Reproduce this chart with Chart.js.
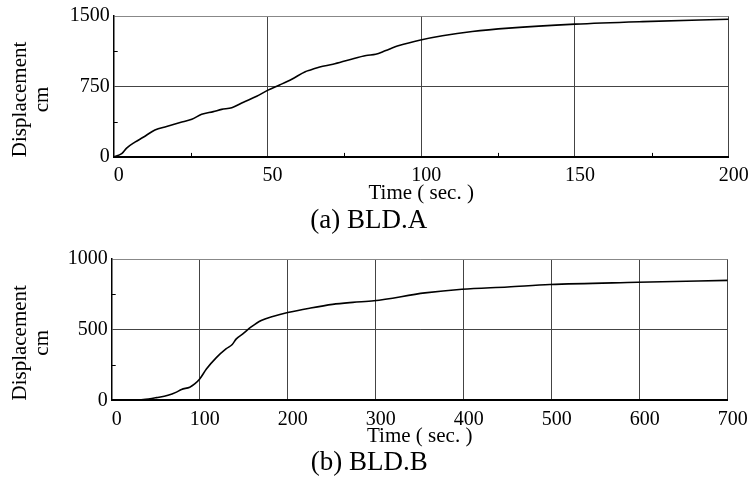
<!DOCTYPE html>
<html>
<head>
<meta charset="utf-8">
<script src="https://cdn.jsdelivr.net/npm/chart.js@4.4.0/dist/chart.umd.min.js"></script>
<style>
  body { margin: 0; background: #fff; }
  .box { position: absolute; left: 0; width: 752px; }
</style>
</head>
<body>
<div class="box" style="top:0;height:240px"><canvas id="chartA" width="752" height="240"></canvas></div>
<div class="box" style="top:243px;height:238px"><canvas id="chartB" width="752" height="238"></canvas></div>
<script>
// (a) BLD.A
const timeA = [0, 2.6, 4.2, 6.9, 9.6, 13.4, 17.2, 21.6, 25.4, 28.6, 32.4, 35.1, 38.4, 42.2, 46.5, 50, 54.1, 57.9, 62.3, 64, 67, 71.3, 76.7, 82.1, 85.2, 88.5, 92.8, 99.8, 106.9, 116.6, 128.5, 150, 172, 200];
const dispA = [0, 35, 94, 157, 209, 286, 324, 366, 401, 453, 482, 506, 524, 582, 645, 708, 768, 827, 907, 925, 958, 986, 1035, 1080, 1092, 1133, 1185, 1245, 1290, 1335, 1371, 1413, 1440, 1465];
const xLabelsA = [0, 50, 100, 150, 200];
const yLabelsA = [0, 750, 1500];

// (b) BLD.B
const timeB = [0, 20, 36, 51, 64, 73.6, 79.3, 88.7, 94.3, 100, 107.6, 118.9, 130.2, 137, 141.6, 149, 158.5, 169.9, 183, 200, 225, 251, 274, 298, 356, 398, 450, 498, 598, 700];
const dispB = [0, 1, 5, 19, 35, 58, 77, 93, 116, 151, 221, 302, 365, 395, 435, 470, 519, 565, 593, 621, 652, 679, 693, 704, 760, 786, 802, 819, 835, 849];
const xLabelsB = [0, 100, 200, 300, 400, 500, 600, 700];
const yLabelsB = [0, 500, 1000];

const yTitle = ["Displacement", "cm"];
const xTitle = "Time ( sec. )";
const captions = ["(a) BLD.A", "(b) BLD.B"];

Chart.defaults.font.family = "'Liberation Serif', 'Times New Roman', serif";
Chart.defaults.color = "#000";

// minor ticks pointing into the plot + two-line y title
const decor = {
  id: "decor",
  beforeDatasetsDraw(chart, args, o) {
    const ctx = chart.ctx;
    const { left, bottom } = chart.chartArea;
    const xs = chart.scales.x;
    const ys = chart.scales.y;
    ctx.save();
    ctx.strokeStyle = "#000";
    ctx.lineWidth = 1;
    ctx.beginPath();
    xs.ticks.forEach((t) => {
      if (o.xLabels.includes(t.value)) return;
      const px = Math.round(xs.getPixelForValue(t.value)) + 0.5;
      ctx.moveTo(px, bottom);
      ctx.lineTo(px, bottom - 4);
    });
    ys.ticks.forEach((t) => {
      if (o.yLabels.includes(t.value)) return;
      const py = Math.round(ys.getPixelForValue(t.value)) + 0.5;
      ctx.moveTo(left, py);
      ctx.lineTo(left + 4, py);
    });
    ctx.stroke();

    ctx.fillStyle = "#000";
    ctx.font = "21px 'Liberation Serif', serif";
    ctx.textAlign = "center";
    ctx.textBaseline = "middle";
    ctx.translate(20, bottom - 57.5);
    ctx.rotate(-Math.PI / 2);
    yTitle.forEach((line, i) => ctx.fillText(line, 0, i * 22.5));
    ctx.restore();
  },
};

function drawPanel(id, time, disp, xLabels, yLabels, xStep, yStep, caption, box) {
  const xMax = xLabels[xLabels.length - 1];
  const yMax = yLabels[yLabels.length - 1];
  const gridColor = (labels, max, edge) => (c) => {
    const v = c.tick.value;
    if (v === 0) return "rgba(0,0,0,0)";
    if (v === max) return edge;
    return labels.includes(v) ? "#444" : "rgba(0,0,0,0)";
  };

  new Chart(document.getElementById(id), {
    type: "line",
    data: {
      datasets: [
        {
          data: time.map((t, i) => ({ x: t, y: disp[i] })),
          borderColor: "#000",
          borderWidth: 1.6,
          pointRadius: 0,
          fill: false,
          cubicInterpolationMode: "monotone",
        },
      ],
    },
    plugins: [decor],
    options: {
      responsive: false,
      animation: false,
      layout: {
        padding: { left: box.padLeft, right: 752 - box.right, top: box.top, bottom: box.padBottom },
      },
      plugins: {
        legend: { display: false },
        tooltip: { enabled: false },
        title: {
          display: true,
          position: "bottom",
          text: caption,
          font: { size: 27, weight: "normal", lineHeight: 1.2 },
          padding: 0,
          color: "#000",
        },
        decor: { xLabels, yLabels },
      },
      scales: {
        x: {
          type: "linear",
          min: 0,
          max: xMax,
          afterFit: (s) => { s.height = box.xHeight; },
          border: { color: "#000", width: 2 },
          grid: { drawTicks: false, color: gridColor(xLabels, xMax, "#444"), lineWidth: 1 },
          ticks: {
            stepSize: xStep,
            autoSkip: false,
            maxRotation: 0,
            padding: 7,
            labelOffset: 5,
            font: { size: 20 },
            callback: (v) => (xLabels.includes(v) ? v : ""),
          },
          title: {
            display: true,
            text: xTitle,
            font: { size: 21, lineHeight: 1 },
            padding: { top: 0, bottom: box.titlePad },
          },
        },
        y: {
          min: 0,
          max: yMax,
          afterFit: (s) => { s.width = box.left - box.padLeft; },
          border: { color: "#000", width: 1.5 },
          grid: { drawTicks: false, color: gridColor(yLabels, yMax, "#888"), lineWidth: 1 },
          ticks: {
            stepSize: yStep,
            autoSkip: false,
            padding: 4,
            font: { size: 20 },
            callback: (v) => (yLabels.includes(v) ? v : ""),
          },
        },
      },
    },
  });
}

drawPanel("chartA", timeA, dispA, xLabelsA, yLabelsA, 25, 375, captions[0],
  { left: 113.7, right: 728.7, top: 15, padLeft: 9, padBottom: 2.7, xHeight: 48, titlePad: 1 });
drawPanel("chartB", timeB, dispB, xLabelsB, yLabelsB, 100, 250, captions[1],
  { left: 111.7, right: 727.7, top: 15.5, padLeft: 10.7, padBottom: 2.1, xHeight: 46.2, titlePad: 0 });
</script>
</body>
</html>
